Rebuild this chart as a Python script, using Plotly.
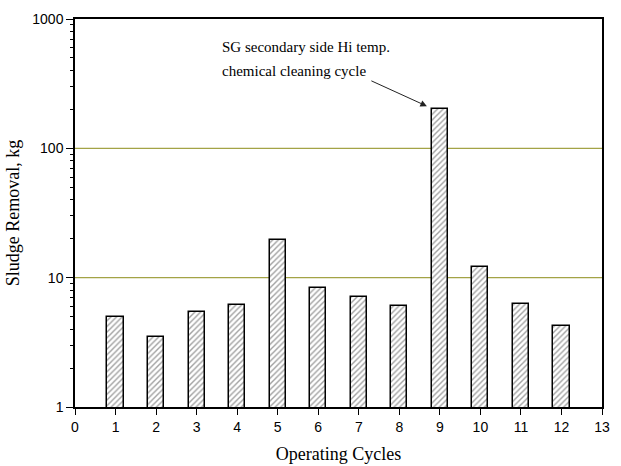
import numpy as np
import plotly.graph_objects as go

cycles = [1, 2, 3, 4, 5, 6, 7, 8, 9, 10, 11, 12]
sludge_kg = [4.95, 3.5, 5.4, 6.2, 19.4, 8.3, 7.1, 6.0, 200, 12.1, 6.3, 4.25]
x_ticks = list(range(0, 14))
y_ticks = [1, 10, 100, 1000]
y_minor = [m * d for d in [1, 10, 100] for m in range(2, 10)]
note_lines = ["SG secondary side Hi temp.", "chemical cleaning cycle"]
highlight_cycle = 9

serif = "Liberation Serif, Times New Roman, serif"
sans = "Liberation Sans, Arial, sans-serif"

fig = go.Figure()
fig.add_trace(go.Bar(
    x=cycles, y=sludge_kg, width=0.4,
    marker=dict(color="white",
                line=dict(color="black", width=1.5),
                pattern=dict(shape="/", fgcolor="#444444", bgcolor="white",
                             size=4, solidity=0.35)),
    showlegend=False,
))
# invisible trace to activate the minor-tick overlay axis
fig.add_trace(go.Scatter(x=[None], y=[None], yaxis="y2", showlegend=False, hoverinfo="skip"))

fig.update_layout(
    width=621, height=466,
    margin=dict(l=75, r=19, t=19, b=59),
    paper_bgcolor="white", plot_bgcolor="white",
    bargap=0,
    xaxis=dict(range=[0, 13], tickvals=x_ticks, ticktext=[str(v) for v in x_ticks],
               ticks="outside", ticklen=6, tickwidth=1.2, tickcolor="black",
               showline=True, linecolor="black", linewidth=1.5, mirror=True,
               showgrid=False, zeroline=False, automargin=False,
               tickfont=dict(family=sans, size=14, color="black"),
               title=dict(text="Operating Cycles", font=dict(family=serif, size=18, color="black"),
                          standoff=14)),
    yaxis=dict(type="log", range=[0, 3], tickvals=y_ticks, ticktext=[str(v) for v in y_ticks],
               ticks="outside", ticklen=7, tickwidth=1.2, tickcolor="black",
               showline=True, linecolor="black", linewidth=1.5, mirror=True,
               showgrid=False, zeroline=False, automargin=False,
               tickfont=dict(family=sans, size=14, color="black"),
               title=dict(text="Sludge Removal, kg", font=dict(family=serif, size=18, color="black"),
                          standoff=8)),
    yaxis2=dict(type="log", range=[0, 3], overlaying="y", side="left",
                tickvals=y_minor, showticklabels=False,
                ticks="outside", ticklen=4, tickwidth=1, tickcolor="black",
                showline=False, showgrid=False, zeroline=False, automargin=False),
)

# olive gridlines at 10 and 100
for gv in [10, 100]:
    fig.add_shape(type="line", xref="paper", x0=0, x1=1, yref="y", y0=gv, y1=gv,
                  line=dict(color="#a3a346", width=1.2), layer="below")

# annotation text
base = np.log10(sludge_kg[highlight_cycle - 1])
fig.add_annotation(x=3.57, y=base + 0.485, xref="x", yref="y",
                   text=note_lines[0], showarrow=False, xanchor="left", yanchor="middle",
                   font=dict(family=serif, size=15, color="black"))
fig.add_annotation(x=3.57, y=base + 0.30, xref="x", yref="y",
                   text=note_lines[1], showarrow=False, xanchor="left", yanchor="middle",
                   font=dict(family=serif, size=15, color="black"))
# arrow
fig.add_annotation(x=highlight_cycle - 0.32, y=base + 0.025,
                   xref="x", yref="y", ax=-57, ay=-26, text="", showarrow=True,
                   arrowhead=2, arrowsize=1.3, arrowwidth=1, arrowcolor="#222222", standoff=0)

fig.write_html("out.html")
